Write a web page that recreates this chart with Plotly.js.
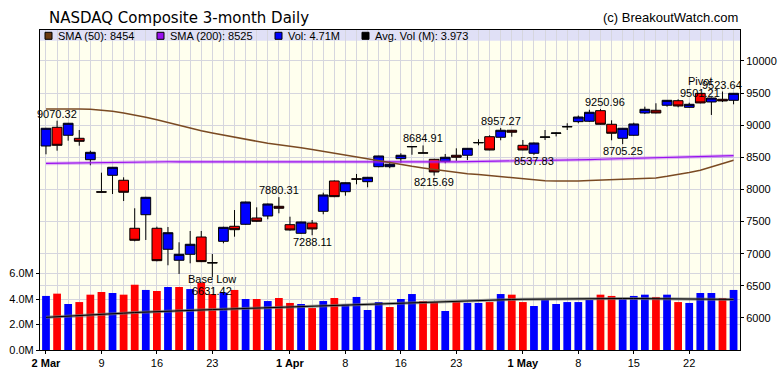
<!DOCTYPE html>
<html><head><meta charset="utf-8">
<script src="https://cdn.plot.ly/plotly-3.0.1.min.js"></script>
<style>html,body{margin:0;padding:0;background:#fff}#chart{width:780px;height:376px}</style>
</head><body><div id="chart"></div>
<script>
const dates = ['2020-03-02','2020-03-03','2020-03-04','2020-03-05','2020-03-06','2020-03-09','2020-03-10','2020-03-11','2020-03-12','2020-03-13',
'2020-03-16','2020-03-17','2020-03-18','2020-03-19','2020-03-20','2020-03-23','2020-03-24','2020-03-25','2020-03-26','2020-03-27',
'2020-03-30','2020-03-31','2020-04-01','2020-04-02','2020-04-03','2020-04-06','2020-04-07','2020-04-08','2020-04-09','2020-04-13',
'2020-04-14','2020-04-15','2020-04-16','2020-04-17','2020-04-20','2020-04-21','2020-04-22','2020-04-23','2020-04-24','2020-04-27',
'2020-04-28','2020-04-29','2020-04-30','2020-05-01','2020-05-04','2020-05-05','2020-05-06','2020-05-07','2020-05-08','2020-05-11',
'2020-05-12','2020-05-13','2020-05-14','2020-05-15','2020-05-18','2020-05-19','2020-05-20','2020-05-21','2020-05-22','2020-05-26',
'2020-05-27','2020-05-28','2020-05-29'];

const openP = [8676,8967,8843,8796,8463,7965,8220,8143,7396,7607,
7396,7069,6898,6991,7260,6862,7193,7427,7458,7556,
7587,7738,7452,7318,7478,7660,8132,7965,8165,8121,
8354,8354,8479,8668,8570,8469,8438,8532,8532,8725,
8821,8812,8921,8687,8563,8812,8872,8975,9055,9061,
9226,9014,8796,8843,9190,9232,9310,9381,9278,9495,
9361,9403,9387];
const highP = [8958,9070.32,9035,8925,8603,8261,8350,8189,7707,7885,
7421,7416,7178,7354,7354,6996,7420,7680,7810,7722,
7780,7880.31,7576,7500,7525,7950,8140,8110,8241,8195,
8525,8440,8563,8672,8684.91,8475,8552,8640,8645,8780,
8843,8957.27,8925,8770,8730,8925,8890,9030,9150,9240,
9250.96,9076,8955,9039,9288,9341,9390,9403,9350,9501.21,
9430,9523.64,9500];
const lowP = [8547,8603,8759,8681,8376,7950,7929,7820,7193,7214,
6882,6820,6685,6851,6870,6631.42,7162,7265,7450,7494,
7536,7629,7360,7310,7288.11,7614,7880,7903,8080,8034,
8345,8330,8417,8540,8565,8215.69,8407,8443,8458,8687,
8610,8765,8821,8610,8537.83,8770,8825,8925,9030,9050,
9010,8765,8705.25,8835,9174,9185,9288,9278,9270,9340,
9159,9360,9325];
const closeP = [8952,8687,9030,8749,8578,7958,8345,7956,7209,7878,
6892,7327,6991,7147,6877,6857,7411,7374,7805,7505,
7774,7707,7369,7494,7385,7914,7888,8105,8160,8189,
8521,8392,8532,8665,8566,8272,8501,8501,8640,8730,
8614,8921,8890,8614,8723,8816,8879,8977,9127,9201,
9014,8874,8952,9019,9247,9190,9387,9299,9325,9346,
9423,9377,9496];
// volume in millions
const volumeM = [4.24,4.42,3.61,3.76,4.34,4.55,4.47,4.34,5.12,4.71,
4.63,4.94,4.94,4.78,5.28,4.39,4.50,4.71,4.00,4.00,
3.84,4.08,3.69,3.61,3.29,3.84,4.08,3.56,4.16,3.14,
3.76,3.37,4.00,4.39,3.84,3.76,3.06,3.79,3.69,3.69,
3.76,4.39,4.34,3.76,3.45,3.92,3.61,3.76,3.76,3.92,
4.34,4.24,4.00,4.24,4.34,4.16,4.34,3.76,3.69,4.47,
4.47,4.08,4.71];
// 1 = up day (blue volume bar), 0 = down day (red)
const volUp = [1,0,1,0,0,0,1,0,0,1,
0,1,0,1,0,0,1,0,1,0,
1,0,0,1,0,1,0,1,1,1,
1,0,1,1,0,0,1,0,1,1,
0,1,0,0,1,1,1,1,1,1,
0,0,1,1,1,0,1,0,1,1,
1,0,1];
const avgVolM = [2.56,2.60,2.64,2.68,2.72,2.77,2.83,2.89,2.94,2.98,
3.02,3.05,3.08,3.11,3.14,3.17,3.20,3.23,3.26,3.30,
3.33,3.37,3.40,3.44,3.47,3.50,3.53,3.56,3.59,3.63,
3.66,3.69,3.72,3.75,3.78,3.80,3.83,3.85,3.88,3.90,
3.92,3.94,3.96,3.98,3.99,4.01,4.02,4.04,4.05,4.05,
4.05,4.05,4.04,4.04,4.03,4.03,4.02,4.02,4.01,4.00,
3.99,3.98,3.97];
const sma50 = [9252,9255,9255,9252,9247,9235,9215,9190,9160,9125,
9085,9040,9000,8955,8915,8880,8845,8810,8780,8750,
8720,8700,8675,8650,8620,8590,8560,8530,8505,8475,
8440,8410,8385,8360,8335,8310,8285,8265,8245,8232,
8215,8200,8180,8165,8150,8137,8132,8130,8132,8138,
8145,8150,8155,8160,8168,8180,8205,8230,8265,8300,
8350,8400,8454];
const sma200 = [8405,8408,8412,8416,8420,8424,8427,8429,8430,8431,
8431,8431,8430,8430,8429,8428,8427,8426,8425,8424,
8423,8422,8421,8420,8420,8420,8420,8420,8421,8421,
8422,8423,8424,8425,8426,8427,8428,8430,8432,8434,
8436,8439,8442,8444,8446,8448,8452,8456,8460,8465,
8470,8475,8480,8485,8490,8494,8498,8502,8506,8510,
8515,8520,8525];

const tickDates = ['2020-03-02','2020-03-09','2020-03-16','2020-03-23','2020-04-01','2020-04-08','2020-04-16','2020-04-23','2020-05-01','2020-05-08','2020-05-15','2020-05-22'];
const tickText = ['<b>2 Mar</b>','9','16','23','<b>1 Apr</b>','8','16','23','<b>1 May</b>','8','15','22'];
const priceTicks = [6000,6500,7000,7500,8000,8500,9000,9500,10000];
const volTicks = [0,2,4,6];
const volTickText = ['0.0M','2.0M','4.0M','6.0M'];

// price labels on the chart
const labelDates = ['2020-03-03','2020-03-31','2020-04-03','2020-04-20','2020-04-21','2020-04-29','2020-05-04','2020-05-12','2020-05-14','2020-05-26','2020-05-28'];
const labelValues = [9070.32,7880.31,7288.11,8684.91,8215.69,8957.27,8537.83,9250.96,8705.25,9501.21,9523.64];
const labelAbove = [1,1,0,1,0,1,0,1,0,1,1];
const baseLowDate = '2020-03-23';
const baseLowValue = 6631.42;
const pivotDate = '2020-05-26';

const legendItems = ['SMA (50): 8454','SMA (200): 8525','Vol: 4.71M','Avg. Vol (M): 3.973'];

const FONT = 'Liberation Sans, Arial, sans-serif';
const GRID = '#d6d6de';
const BLUE = '#0000ff', RED = '#ff0000';
const xIdx = dates.map((d,i)=>i);
const ix = d => dates.indexOf(d);

const traces = [
  {type:'bar', x:xIdx, y:volumeM.map(v=>v*1e6), xaxis:'x', yaxis:'y',
   marker:{color:volUp.map(u=>u?BLUE:RED), line:{width:0}}, hoverinfo:'skip'},
  {type:'scatter', mode:'lines', x:xIdx, y:avgVolM.map(v=>v*1e6), xaxis:'x', yaxis:'y',
   line:{color:'rgba(110,110,110,0.7)', width:3}, hoverinfo:'skip'},
  {type:'scatter', mode:'lines', x:xIdx, y:avgVolM.map(v=>v*1e6), xaxis:'x', yaxis:'y',
   line:{color:'#000', width:1}, hoverinfo:'skip'},
  {type:'scatter', mode:'lines', x:xIdx, y:sma200, xaxis:'x', yaxis:'y2',
   line:{color:'rgba(170,60,240,0.35)', width:3.5}, hoverinfo:'skip'},
  {type:'scatter', mode:'lines', x:xIdx, y:sma200, xaxis:'x', yaxis:'y2',
   line:{color:'#9a10f0', width:1.2}, hoverinfo:'skip'},
  {type:'scatter', mode:'lines', x:xIdx, y:sma50, xaxis:'x', yaxis:'y2',
   line:{color:'#7a4a22', width:1.5}, hoverinfo:'skip'},
  {type:'candlestick', x:xIdx, open:openP, high:highP, low:lowP, close:closeP, xaxis:'x', yaxis:'y2',
   increasing:{line:{color:'#000', width:1}, fillcolor:BLUE},
   decreasing:{line:{color:'#000', width:1}, fillcolor:RED},
   whiskerwidth:0, hoverinfo:'none'}
];

const annFont = {family:FONT, size:11, color:'#000'};
const annotations = [];
labelDates.forEach((d,k)=>{
  let ys = labelAbove[k] ? 7 : -6.5;
  let xs = 0;
  if (d === pivotDate) ys = 0;
  if (labelValues[k] === 9250.96) xs = 5;
  annotations.push({xref:'x', yref:'y2', x:ix(d), y:labelValues[k], text:String(labelValues[k].toFixed(2)),
    showarrow:false, yanchor:'middle', xanchor:'center', yshift:ys, xshift:xs, font:annFont});
});
annotations.push({xref:'x', yref:'y2', x:ix(pivotDate), y:labelValues[9], text:'Pivot', showarrow:false,
  yanchor:'middle', yshift:12, font:annFont});
annotations.push({xref:'x', yref:'y2', x:ix(baseLowDate), y:baseLowValue, text:'Base Low', showarrow:false,
  yanchor:'middle', yshift:-2, font:annFont});
annotations.push({xref:'x', yref:'y2', x:ix(baseLowDate), y:baseLowValue, text:baseLowValue.toFixed(2), showarrow:false,
  yanchor:'middle', yshift:-14, font:annFont});

// legend band items
const W = 700, H = 320;
const px = p => (p-40)/W, py = p => (350-p)/H;
const legendColors = ['#6b3a10','#9a10f0','#0000ff','#000000'];
const legendSq = [45,157,275,362];
const shapes = [
  {type:'rect', xref:'x domain', yref:'y domain', x0:0, x1:1, y0:py(40.7), y1:1,
   fillcolor:'#e0e0f6', line:{width:0}, layer:'below'}
];
legendItems.forEach((t,k)=>{
  shapes.push({type:'rect', xref:'paper', yref:'paper', x0:px(legendSq[k]), x1:px(legendSq[k]+7),
    y0:py(39.3), y1:py(32.3), fillcolor:legendColors[k], line:{color:'#000', width:1}, layer:'above'});
  annotations.push({xref:'paper', yref:'paper', x:px(legendSq[k]+11), y:py(35.6), text:t, showarrow:false,
    xanchor:'left', yanchor:'middle', font:{family:FONT, size:11, color:'#000'}});
});
annotations.push({xref:'paper', yref:'paper', x:1, y:py(18), text:'(c) BreakoutWatch.com', showarrow:false,
  xanchor:'right', yanchor:'middle', font:{family:FONT, size:13, color:'#000'}});

const layout = {
  width:780, height:376,
  margin:{l:40, r:40, t:30, b:26, pad:0},
  paper_bgcolor:'#ffffff', plot_bgcolor:'#ffffee',
  showlegend:false,
  boxgap:0.12, boxgroupgap:0,
  bargap:0.3,
  title:{text:'NASDAQ Composite 3-month Daily', xref:'container', yref:'container', x:49/780, xanchor:'left',
    y:1-18/376, yanchor:'middle', font:{family:'DejaVu Sans, sans-serif', size:15, color:'#000'}},
  xaxis:{type:'linear', range:[-0.54, 62.58], tickmode:'array', tickvals:tickDates.map(ix), ticktext:tickText,
    showgrid:true, gridcolor:GRID, gridwidth:1,
    minor:{dtick:1, tick0:0, showgrid:true, gridcolor:GRID, ticks:''},
    showline:true, linecolor:'#000', linewidth:1, mirror:true, zeroline:false,
    ticks:'outside', ticklen:3, tickcolor:'#000', tickfont:{family:FONT, size:11, color:'#000'},
    rangeslider:{visible:false}, fixedrange:true},
  yaxis:{range:[0, 25.1e6], side:'left', tickmode:'array', tickvals:volTicks.map(v=>v*1e6), ticktext:volTickText,
    showgrid:true, gridcolor:GRID, showline:true, linecolor:'#000', linewidth:1, zeroline:false,
    ticks:'outside', ticklen:3, tickcolor:'#000', tickfont:{family:FONT, size:11, color:'#000'}, fixedrange:true},
  yaxis2:{overlaying:'y', side:'right', range:[5502, 10481], tickmode:'array', tickvals:priceTicks,
    ticktext:priceTicks.map(String),
    showgrid:true, gridcolor:GRID, showline:true, linecolor:'#000', linewidth:1, zeroline:false,
    ticks:'outside', ticklen:3, tickcolor:'#000', tickfont:{family:FONT, size:11, color:'#000'}, fixedrange:true},
  annotations:annotations,
  shapes:shapes
};

Plotly.newPlot('chart', traces, layout, {displayModeBar:false, staticPlot:true});
</script>
</body></html>
